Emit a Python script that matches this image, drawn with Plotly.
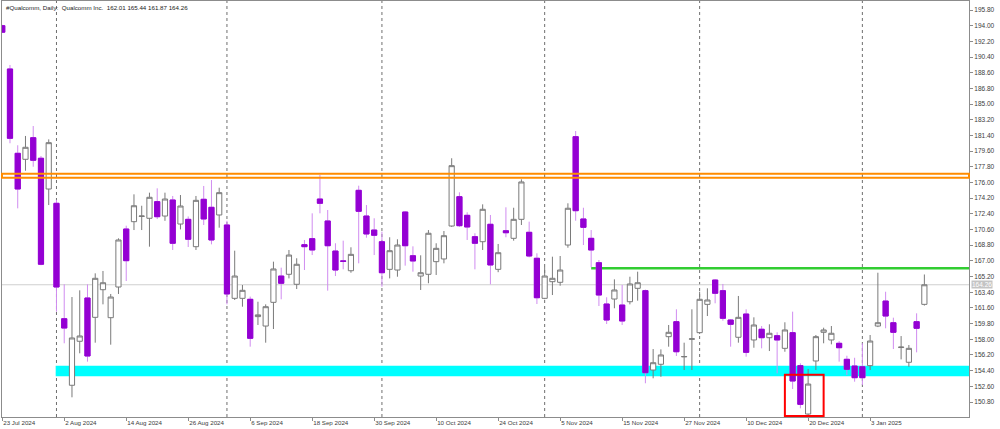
import plotly.graph_objects as go

# ---------------- data ----------------
dates = [
    "2024-07-23", "2024-07-24", "2024-07-25", "2024-07-26", "2024-07-29", "2024-07-30", "2024-07-31",
    "2024-08-01", "2024-08-02", "2024-08-05", "2024-08-06", "2024-08-07", "2024-08-08", "2024-08-09",
    "2024-08-12", "2024-08-13", "2024-08-14", "2024-08-15", "2024-08-16", "2024-08-19", "2024-08-20",
    "2024-08-21", "2024-08-22", "2024-08-23", "2024-08-26", "2024-08-27", "2024-08-28", "2024-08-29",
    "2024-08-30", "2024-09-03", "2024-09-04", "2024-09-05", "2024-09-06", "2024-09-09", "2024-09-10",
    "2024-09-11", "2024-09-12", "2024-09-13", "2024-09-16", "2024-09-17", "2024-09-18", "2024-09-19",
    "2024-09-20", "2024-09-23", "2024-09-24", "2024-09-25", "2024-09-26", "2024-09-27", "2024-09-30",
    "2024-10-01", "2024-10-02", "2024-10-03", "2024-10-04", "2024-10-07", "2024-10-08", "2024-10-09",
    "2024-10-10", "2024-10-11", "2024-10-15", "2024-10-16", "2024-10-17", "2024-10-18", "2024-10-22",
    "2024-10-23", "2024-10-24", "2024-10-25", "2024-10-28", "2024-10-29", "2024-10-30", "2024-10-31",
    "2024-11-01", "2024-11-04", "2024-11-05", "2024-11-06", "2024-11-07", "2024-11-08", "2024-11-11",
    "2024-11-12", "2024-11-13", "2024-11-14", "2024-11-15", "2024-11-18", "2024-11-19", "2024-11-20",
    "2024-11-21", "2024-11-22", "2024-11-25", "2024-11-26", "2024-11-27", "2024-11-29", "2024-12-02",
    "2024-12-03", "2024-12-04", "2024-12-05", "2024-12-06", "2024-12-09", "2024-12-10", "2024-12-11",
    "2024-12-12", "2024-12-13", "2024-12-16", "2024-12-17", "2024-12-18", "2024-12-19", "2024-12-20",
    "2024-12-23", "2024-12-24", "2024-12-26", "2024-12-27", "2024-12-30", "2024-12-31", "2025-01-02",
    "2025-01-03", "2025-01-06", "2025-01-07", "2025-01-08", "2025-01-10", "2025-01-13", "2025-01-14",
    "2025-01-15",
]

opens = [
    194.00, 189.03, 179.35, 178.66, 181.14, 178.78, 175.25,
    173.61, 160.36, 152.72, 157.77, 162.74, 160.52, 163.69,
    160.48, 164.00, 170.66, 171.50, 172.10, 171.89, 173.80,
    172.15, 173.99, 171.23, 171.77, 168.63, 174.07, 173.15,
    172.27, 171.12, 162.70, 162.70, 162.59, 160.60, 159.52,
    162.24, 165.26, 165.46, 164.31, 168.86, 169.55, 174.10,
    171.58, 168.13, 167.00, 165.87, 175.10, 172.15, 170.54,
    169.20, 166.03, 165.95, 172.61, 167.59, 165.26, 165.46,
    166.91, 167.22, 171.00, 174.37, 172.23, 169.78, 169.20,
    171.20, 166.03, 170.46, 169.59, 171.77, 170.28, 167.30,
    162.70, 164.61, 164.54, 168.82, 181.26, 171.81, 169.59,
    166.79, 162.05, 162.62, 161.93, 162.31, 163.85, 163.58,
    154.47, 155.13, 158.30, 160.02, 155.98, 158.00, 158.76,
    162.01, 164.80, 163.58, 160.21, 158.23, 160.90, 157.92,
    159.15, 158.18, 158.41, 156.96, 158.76, 154.97, 149.42,
    155.51, 158.80, 157.92, 157.54, 155.70, 154.93, 154.85,
    154.97, 159.52, 162.39, 159.90, 157.05, 155.36, 160.02,
    162.01,
]

highs = [
    194.10, 189.49, 180.27, 181.34, 182.48, 179.04, 180.95,
    174.00, 164.31, 162.85, 163.62, 164.31, 165.57, 165.84,
    163.20, 169.59, 171.04, 174.64, 173.33, 174.83, 175.33,
    174.83, 174.45, 174.56, 172.10, 174.45, 175.60, 176.28,
    175.40, 171.60, 168.17, 164.23, 162.90, 162.31, 162.01,
    166.91, 166.22, 168.25, 167.30, 169.40, 172.46, 176.86,
    172.84, 169.02, 169.32, 168.56, 175.63, 173.41, 171.89,
    170.35, 169.71, 169.48, 172.70, 168.67, 167.64, 170.54,
    169.02, 170.43, 178.78, 174.87, 172.58, 170.17, 173.49,
    172.27, 168.94, 173.15, 173.10, 176.36, 171.50, 167.87,
    166.30, 167.48, 167.56, 173.61, 181.91, 173.10, 170.54,
    167.10, 162.82, 164.88, 164.23, 165.18, 165.76, 163.70,
    156.88, 156.84, 159.64, 161.44, 157.61, 161.44, 163.46,
    163.85, 164.90, 164.35, 160.30, 162.97, 161.44, 160.52,
    159.52, 159.72, 158.80, 159.95, 161.17, 155.24, 154.59,
    158.49, 159.33, 159.52, 157.80, 156.11, 155.88, 157.54,
    158.49, 165.64, 163.46, 160.48, 158.37, 157.34, 160.98,
    165.44,
]

lows = [
    193.20, 180.50, 173.03, 177.35, 177.81, 166.50, 173.41,
    161.17, 157.54, 151.34, 156.39, 155.43, 157.61, 162.01,
    157.38, 163.20, 164.69, 170.54, 170.54, 168.63, 171.80,
    171.60, 168.25, 170.61, 168.59, 168.25, 171.12, 168.90,
    170.81, 162.01, 162.51, 161.74, 157.15, 159.64, 157.61,
    159.18, 162.59, 164.99, 163.77, 165.95, 167.67, 172.46,
    163.58, 165.26, 166.03, 165.64, 166.72, 169.66, 167.67,
    164.04, 164.99, 165.18, 166.45, 165.76, 163.66, 164.43,
    165.38, 166.72, 170.90, 170.90, 169.40, 166.03, 168.25,
    164.31, 165.70, 169.71, 169.32, 171.12, 167.40, 162.05,
    162.60, 163.08, 164.15, 168.51, 171.61, 168.82, 166.26,
    161.82, 159.75, 161.56, 159.64, 162.01, 162.43, 152.95,
    153.52, 153.70, 157.15, 156.08, 154.47, 154.47, 158.60,
    160.67, 162.13, 160.13, 157.15, 157.61, 156.00, 157.03,
    156.96, 156.65, 154.09, 156.57, 152.29, 150.08, 149.30,
    154.47, 157.54, 157.42, 155.43, 153.90, 153.13, 152.75,
    154.47, 159.40, 159.26, 156.88, 155.69, 154.85, 156.50,
    161.87,
]

closes = [
    193.25, 181.07, 175.25, 180.04, 178.55, 166.61, 180.57,
    164.00, 159.29, 158.15, 158.38, 156.08, 165.00, 164.49,
    162.85, 169.40, 167.02, 173.33, 172.15, 174.30, 172.07,
    174.10, 169.02, 173.30, 169.48, 173.95, 171.81, 169.40,
    174.83, 163.20, 165.26, 163.62, 158.11, 160.80, 161.74,
    166.07, 164.43, 167.67, 166.61, 168.63, 168.25, 173.61,
    168.74, 165.95, 166.95, 167.75, 172.69, 170.09, 169.94,
    165.64, 168.17, 168.82, 168.74, 166.99, 165.64, 170.17,
    168.44, 169.89, 177.93, 171.04, 170.89, 169.02, 172.92,
    166.53, 167.94, 170.23, 171.77, 176.06, 167.56, 162.77,
    165.26, 165.00, 165.95, 173.04, 172.76, 170.85, 168.25,
    163.08, 160.21, 163.66, 160.10, 164.35, 164.49, 154.16,
    155.31, 156.20, 158.80, 156.57, 156.02, 158.05, 162.59,
    162.51, 163.28, 160.41, 159.72, 160.52, 156.50, 159.64,
    158.18, 158.69, 157.92, 159.07, 153.21, 150.53, 152.86,
    158.30, 159.07, 158.69, 157.03, 154.55, 153.59, 153.59,
    157.80, 159.90, 160.67, 158.80, 157.10, 156.96, 159.26,
    164.26,
]

tick_dates = [
    "2024-07-23", "2024-08-02", "2024-08-14", "2024-08-26", "2024-09-06", "2024-09-18",
    "2024-09-30", "2024-10-10", "2024-10-24", "2024-11-05", "2024-11-15", "2024-11-27",
    "2024-12-10", "2024-12-20", "2025-01-03",
]
tick_labels = [
    "23 Jul 2024", "2 Aug 2024", "14 Aug 2024", "26 Aug 2024", "6 Sep 2024", "18 Sep 2024",
    "30 Sep 2024", "10 Oct 2024", "24 Oct 2024", "5 Nov 2024", "15 Nov 2024", "27 Nov 2024",
    "10 Dec 2024", "20 Dec 2024", "3 Jan 2025",
]

title_text = "#Qualcomm, Daily:  Qualcomm Inc.  162.01 165.44 161.87 164.26"
last_price = 164.26
resistance_zone = [176.55, 177.01]
green_level = 166.15
green_start = "2024-11-11"
support_zone = [153.75, 154.97]
support_start = "2024-08-01"
red_box_dates = ["2024-12-17", "2024-12-24"]
red_box_prices = [149.2, 153.93]

# ---------------- styling ----------------
BEAR = "#9400D3"
BEAR_WICK = "#D08CF0"
BULL_LINE = "#7A7A7A"
FRAME = "#8C8C8C"
TEXT = "#3C3C3C"
FONT = "Liberation Sans"

idx = {d: i for i, d in enumerate(dates)}

fig = go.Figure()

# full candles (wicks + bodies)
fig.add_trace(go.Candlestick(
    x=dates, open=opens, high=highs, low=lows, close=closes,
    increasing=dict(line=dict(color=BULL_LINE, width=1), fillcolor="#FFFFFF"),
    decreasing=dict(line=dict(color=BEAR_WICK, width=1), fillcolor=BEAR),
    whiskerwidth=0, hoverinfo="skip", showlegend=False,
))

# solid outline for bearish bodies
bear_x = [d for d, o, c in zip(dates, opens, closes) if c < o]
bear_o = [o for o, c in zip(opens, closes) if c < o]
bear_c = [c for o, c in zip(opens, closes) if c < o]
fig.add_trace(go.Candlestick(
    x=bear_x, open=bear_o, high=bear_o, low=bear_c, close=bear_c,
    increasing=dict(line=dict(color=BEAR, width=1), fillcolor=BEAR),
    decreasing=dict(line=dict(color=BEAR, width=1), fillcolor=BEAR),
    whiskerwidth=0, hoverinfo="skip", showlegend=False,
))

shapes = []
# month separators
for i in range(1, len(dates)):
    if dates[i][5:7] != dates[i - 1][5:7]:
        shapes.append(dict(type="line", xref="x", yref="paper", x0=i, x1=i, y0=0, y1=1,
                           line=dict(color="#6F6F6F", width=1, dash="dot"), layer="below"))
# last price line
shapes.append(dict(type="line", xref="paper", yref="y", x0=0, x1=1, y0=last_price, y1=last_price,
                   line=dict(color="#CFCFCF", width=1), layer="below"))
# support zone (cyan)
shapes.append(dict(type="rect", xref="x", yref="y", x0=idx[support_start] - 0.1, x1=len(dates) + 10,
                   y0=support_zone[0], y1=support_zone[1], fillcolor="#00FFFF",
                   line=dict(width=0), layer="below"))
# green level
shapes.append(dict(type="line", xref="x", yref="y", x0=idx[green_start], x1=len(dates) + 10,
                   y0=green_level, y1=green_level, line=dict(color="#32CD32", width=2.5), layer="below"))
# resistance zone (orange outline)
shapes.append(dict(type="rect", xref="paper", yref="y", x0=0, x1=1,
                   y0=resistance_zone[0], y1=resistance_zone[1],
                   line=dict(color="#FF8C00", width=2), fillcolor="rgba(0,0,0,0)", layer="above"))
# red box
shapes.append(dict(type="rect", xref="x", yref="y", x0=idx[red_box_dates[0]], x1=idx[red_box_dates[1]],
                   y0=red_box_prices[0], y1=red_box_prices[1], line=dict(color="#FF0000", width=2),
                   fillcolor="rgba(0,0,0,0)", layer="above"))

annotations = [
    dict(text=title_text, xref="paper", yref="paper", x=0.002, y=0.997, xanchor="left", yanchor="top",
         showarrow=False, font=dict(family=FONT, size=6.2, color="#222222")),
    dict(text=f"{last_price:.2f}", xref="paper", yref="y", x=1, y=last_price, xanchor="left",
         yanchor="middle", xshift=2, showarrow=False, bgcolor="#C4C4C4", borderpad=0,
         font=dict(family=FONT, size=6.5, color="#FFFFFF")),
]

fig.update_layout(
    width=1000, height=429,
    margin=dict(l=2, r=31, t=1, b=12),
    paper_bgcolor="#FFFFFF", plot_bgcolor="#FFFFFF",
    showlegend=False,
    boxgap=0.33, boxgroupgap=0,
    shapes=shapes, annotations=annotations,
    font=dict(family=FONT, size=6.5, color=TEXT),
    xaxis=dict(
        type="category", range=[-0.03, 124.76], rangeslider=dict(visible=False),
        showgrid=False, zeroline=False,
        showline=True, mirror=True, linecolor=FRAME, linewidth=1,
        tickmode="array", tickvals=tick_dates, ticktext=tick_labels,
        ticks="outside", ticklen=3, tickcolor=FRAME,
        ticklabelposition="outside right", ticklabelstandoff=0,
        tickfont=dict(family=FONT, size=6.2, color=TEXT),
    ),
    yaxis=dict(
        side="right", range=[149.078, 196.833],
        showgrid=False, zeroline=False,
        showline=True, mirror=True, linecolor=FRAME, linewidth=1,
        tick0=150.8, dtick=1.8, tickformat=".2f",
        ticks="outside", ticklen=3, tickcolor=FRAME,
        tickfont=dict(family=FONT, size=6.5, color=TEXT),
    ),
)

fig.write_html(
    "out.html",
    config={"displayModeBar": False},
    post_script="document.body.style.margin='0';document.body.style.overflow='hidden';",
)
